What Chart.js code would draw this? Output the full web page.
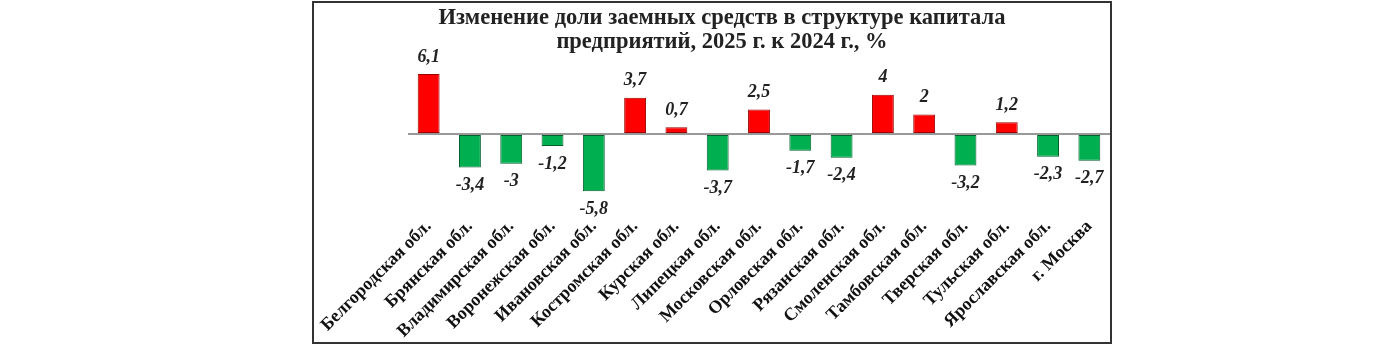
<!DOCTYPE html>
<html lang="ru">
<head>
    <meta charset="UTF-8">
    <title>Изменение доли заемных средств</title>
    <script src="https://cdn.jsdelivr.net/npm/chart.js"></script>
    <style>
        body, html {
            margin: 0;
            padding: 0;
            background: #fff;
            overflow: hidden;
        }
        #box {
            position: absolute;
            left: 312px;
            top: 1px;
            width: 800px;
            height: 343px;
            border: 2px solid #333;
            box-sizing: border-box;
        }
    </style>
</head>
<body>
<div id="box"><canvas id="chart"></canvas></div>
<script>
const regions = ["Белгородская обл.", "Брянская обл.", "Владимирская обл.", "Воронежская обл.",
    "Ивановская обл.", "Костромская обл.", "Курская обл.", "Липецкая обл.", "Московская обл.",
    "Орловская обл.", "Рязанская обл.", "Смоленская обл.", "Тамбовская обл.", "Тверская обл.",
    "Тульская обл.", "Ярославская обл.", "г. Москва"];
const changes = [6.1, -3.4, -3, -1.2, -5.8, 3.7, 0.7, -3.7, 2.5, -1.7, -2.4, 4, 2, -3.2, 1.2, -2.3, -2.7];
const titleLines = ["Изменение доли заемных средств в структуре капитала", "предприятий, 2025 г. к 2024 г., %"];

// value labels above / below the bars, comma as decimal separator
const valueLabels = {
    id: 'valueLabels',
    afterDatasetsDraw(chart) {
        const ctx = chart.ctx;
        const meta = chart.getDatasetMeta(0);
        ctx.save();
        ctx.font = 'italic bold 18px "Liberation Serif"';
        ctx.fillStyle = '#222';
        ctx.textAlign = 'center';
        ctx.textBaseline = 'middle';
        meta.data.forEach((bar, i) => {
            const v = changes[i];
            const y = v >= 0 ? bar.y - 17 : bar.y + 18;
            ctx.fillText(String(v).replace('.', ','), bar.x, y);
        });
        ctx.restore();
    }
};

new Chart(document.getElementById('chart'), {
    type: 'bar',
    data: {
        labels: regions,
        datasets: [{
            data: changes,
            backgroundColor: changes.map(v => v >= 0 ? '#ff0000' : '#00b050'),
            borderColor: changes.map(v => v >= 0 ? '#9a0000' : '#00602c'),
            borderWidth: 1,
            borderSkipped: false,
            categoryPercentage: 1,
            barPercentage: 0.53
        }]
    },
    options: {
        responsive: true,
        maintainAspectRatio: false,
        animation: false,
        layout: { padding: { left: 20, right: 0, top: 0, bottom: 0 } },
        plugins: {
            legend: { display: false },
            tooltip: { enabled: false },
            title: {
                display: true,
                text: titleLines,
                color: '#222',
                font: { family: 'Liberation Serif', size: 22.5, weight: 'bold', lineHeight: 1.03 },
                padding: { top: 4, bottom: 2 }
            }
        },
        scales: {
            x: {
                grid: { display: false },
                border: { display: false },
                afterFit: s => { s.height = 139; },
                ticks: {
                    autoSkip: false,
                    maxRotation: 45,
                    minRotation: 45,
                    color: '#111',
                    padding: 5,
                    font: { family: 'Liberation Serif', size: 18, weight: 'bold' }
                }
            },
            y: {
                min: -7,
                max: 8,
                afterFit: s => { s.width = 74; },
                ticks: { display: false, stepSize: 1 },
                border: { display: false },
                grid: {
                    drawTicks: false,
                    color: c => c.tick.value === 0 ? '#999' : 'rgba(0,0,0,0)',
                    lineWidth: 2
                }
            }
        }
    },
    plugins: [valueLabels]
});
</script>
</body>
</html>
